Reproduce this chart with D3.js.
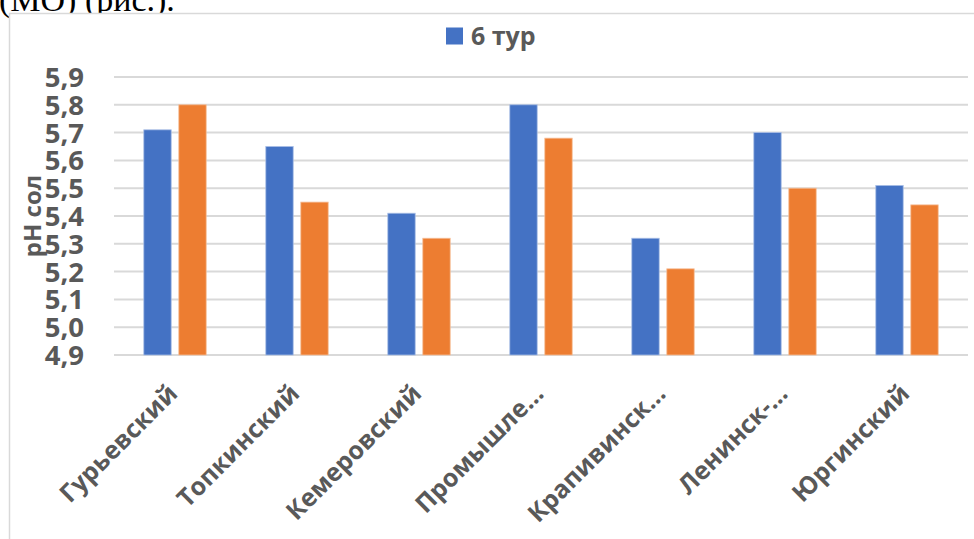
<!DOCTYPE html>
<html><head><meta charset="utf-8">
<script src="https://cdn.jsdelivr.net/npm/d3@7"></script>
<style>body{margin:0;background:#fff;overflow:hidden}svg{display:block}</style>
</head><body>
<svg id="c" width="974" height="539"></svg>
<script>
const categories = ["Гурьевский","Топкинский","Кемеровский","Промышле…","Крапивинск…","Ленинск-…","Юргинский"];
const series6 = [5.71,5.65,5.41,5.80,5.32,5.70,5.51];
const seriesOther = [5.80,5.45,5.32,5.68,5.21,5.50,5.44];
const yTicks = [4.9,5.0,5.1,5.2,5.3,5.4,5.5,5.6,5.7,5.8,5.9];
const legendLabel = "6 тур";
const yTitle = "pH сол";
const topText = "(МО) (рис.).";

const svg = d3.select("#c");
const font = "'Open Sans', sans-serif";
const grey = "#595959";

// page text above chart
svg.append("text").attr("x",-1).attr("y",11).attr("font-family","'Liberation Serif', serif")
  .attr("font-size",34).attr("fill","#000").text(topText);

// chart border
svg.append("rect").attr("x",9.5).attr("y",13.5).attr("width",1000).attr("height",600)
  .attr("fill","#fff").attr("stroke","#D9D9D9").attr("stroke-width",1.5);

const x0 = 114, x1 = 968, yTop = 77, yBot = 355;
const x = d3.scaleBand().domain(categories).range([x0,x1]).paddingInner(0).paddingOuter(0);
const y = d3.scaleLinear().domain([4.9,5.9]).range([yBot,yTop]);

// gridlines
svg.append("g").selectAll("line").data(yTicks).join("line")
  .attr("x1",x0).attr("x2",x1).attr("y1",d=>y(d)).attr("y2",d=>y(d))
  .attr("stroke","#D9D9D9").attr("stroke-width",2);

// y tick labels
const fmt = d => d3.format(".1f")(d).replace(".",",");
svg.append("g").selectAll("text").data(yTicks).join("text")
  .attr("x",84).attr("y",d=>y(d)).attr("dy","0.36em").attr("text-anchor","end")
  .attr("font-family",font).attr("font-weight","bold").attr("font-size",27.5)
  .attr("fill",grey).text(fmt);

// y title
svg.append("text").attr("transform","translate(41,216) rotate(-90)").attr("text-anchor","middle")
  .attr("font-family",font).attr("font-weight","bold").attr("font-size",24)
  .attr("fill",grey).text(yTitle);

// bars
const bw = 27.4, gap = 7.6;
const off = (x.bandwidth() - (2*bw+gap))/2;
const data = categories.map((c,i)=>({c, a:series6[i], b:seriesOther[i]}));
const g = svg.append("g");
[["a","#4472C4","#A9BEE6"],["b","#ED7D31","#F6BE98"]].forEach(([k,col,st])=>{
  g.selectAll("rect."+k).data(data).join("rect").attr("class",k)
   .attr("x",d=>x(d.c)+off+(k==="a"?0:bw+gap)).attr("width",bw)
   .attr("y",d=>y(d[k])).attr("height",d=>y(4.9)-y(d[k]))
   .attr("fill",col).attr("stroke",st).attr("stroke-width",0.8);
});

// category labels
svg.append("g").selectAll("text").data(categories).join("text")
  .attr("transform",d=>`translate(${x(d)+x.bandwidth()/2-8.5},${382.5}) rotate(-45)`)
  .attr("text-anchor","end").attr("dy","0.71em")
  .attr("font-family",font).attr("font-weight","bold").attr("font-size",25)
  .attr("fill",grey).text(d=>d);

// legend
svg.append("rect").attr("x",446).attr("y",27.5).attr("width",17).attr("height",17).attr("fill","#4472C4");
svg.append("text").attr("x",471).attr("y",44.5).attr("font-family",font).attr("font-weight","bold")
  .attr("font-size",25).attr("fill",grey).text(legendLabel);
</script>
</body></html>
